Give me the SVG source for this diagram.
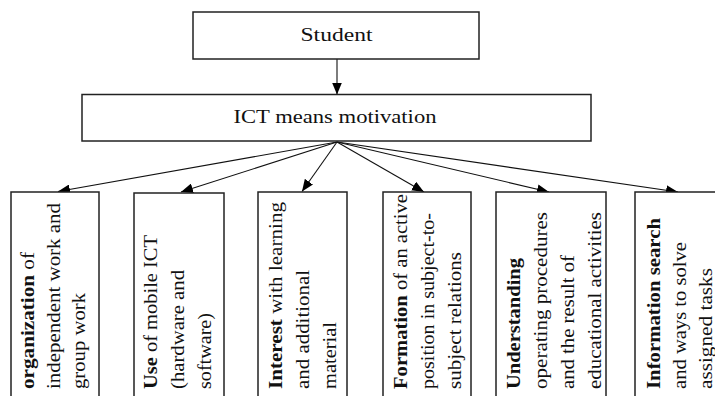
<svg xmlns="http://www.w3.org/2000/svg" width="715" height="396" viewBox="0 0 715 396">
<defs>
<style>
.box{fill:#fff;stroke:#222;stroke-width:1.5}
.t{font-family:"Liberation Serif","Times New Roman",serif;fill:#111}
.c{font-size:18px}
.v{font-size:18px}
.b{font-weight:bold}
.ln{stroke:#111;stroke-width:1.1;fill:none}
</style>
<marker id="ah" markerUnits="userSpaceOnUse" markerWidth="13" markerHeight="10" refX="12" refY="5" orient="auto" viewBox="0 0 13 10">
<path d="M0,0 L12,5 L0,10 z" fill="#000"/>
</marker>
</defs>
<rect width="715" height="396" fill="#fff"/>
<g id="connectors">
<line class="ln" x1="337" y1="59" x2="337" y2="94.5" marker-end="url(#ah)"/>
<line class="ln" x1="337" y1="142" x2="58" y2="191.5" marker-end="url(#ah)"/>
<line class="ln" x1="337" y1="142" x2="181" y2="192" marker-end="url(#ah)"/>
<line class="ln" x1="337" y1="142" x2="302" y2="191.5" marker-end="url(#ah)"/>
<line class="ln" x1="337" y1="142" x2="424" y2="192" marker-end="url(#ah)"/>
<line class="ln" x1="337" y1="142" x2="549" y2="192" marker-end="url(#ah)"/>
<line class="ln" x1="337" y1="142" x2="678" y2="192" marker-end="url(#ah)"/>
</g>
<g id="student">
<rect class="box" x="193" y="12" width="286" height="47"/>
<text class="t c" x="336.5" y="41" text-anchor="middle" textLength="72" lengthAdjust="spacingAndGlyphs">Student</text>
</g>
<g id="ict">
<rect class="box" x="82" y="94.5" width="509" height="46.5"/>
<text class="t c" x="335" y="123" text-anchor="middle" textLength="203" lengthAdjust="spacingAndGlyphs">ICT  means motivation</text>
</g>
<g id="n1">
<rect class="box" x="11" y="192" width="88" height="210"/>
<text class="t v" transform="translate(34,389) rotate(-90)" textLength="137" lengthAdjust="spacingAndGlyphs"><tspan class="b">organization</tspan> of</text>
<text class="t v" transform="translate(59.5,389) rotate(-90)" textLength="186" lengthAdjust="spacingAndGlyphs">independent work and</text>
<text class="t v" transform="translate(85,389) rotate(-90)" textLength="96" lengthAdjust="spacingAndGlyphs">group work</text>
</g>
<g id="n2">
<rect class="box" x="134" y="193" width="90" height="210"/>
<text class="t v" transform="translate(157,389) rotate(-90)" textLength="154" lengthAdjust="spacingAndGlyphs"><tspan class="b">Use</tspan> of mobile ICT</text>
<text class="t v" transform="translate(184,389) rotate(-90)" textLength="119" lengthAdjust="spacingAndGlyphs">(hardware and</text>
<text class="t v" transform="translate(211,389) rotate(-90)" textLength="76" lengthAdjust="spacingAndGlyphs">software)</text>
</g>
<g id="n3">
<rect class="box" x="258" y="192" width="89" height="210"/>
<text class="t v" transform="translate(282,389) rotate(-90)" textLength="187" lengthAdjust="spacingAndGlyphs"><tspan class="b">Interest</tspan> with learning</text>
<text class="t v" transform="translate(309,389) rotate(-90)" textLength="119" lengthAdjust="spacingAndGlyphs">and additional</text>
<text class="t v" transform="translate(336,389) rotate(-90)" textLength="67" lengthAdjust="spacingAndGlyphs">material</text>
</g>
<g id="n4">
<rect class="box" x="383" y="192" width="88" height="210"/>
<text class="t v" transform="translate(407,389) rotate(-90)" textLength="195" lengthAdjust="spacingAndGlyphs"><tspan class="b">Formation</tspan> of an active</text>
<text class="t v" transform="translate(434,389) rotate(-90)" textLength="176" lengthAdjust="spacingAndGlyphs">position in subject-to-</text>
<text class="t v" transform="translate(461,389) rotate(-90)" textLength="137" lengthAdjust="spacingAndGlyphs">subject relations</text>
</g>
<g id="n5">
<rect class="box" x="496" y="192" width="110" height="210"/>
<text class="t v b" transform="translate(520,389) rotate(-90)" textLength="131" lengthAdjust="spacingAndGlyphs">Understanding</text>
<text class="t v" transform="translate(547,389) rotate(-90)" textLength="177" lengthAdjust="spacingAndGlyphs">operating procedures</text>
<text class="t v" transform="translate(574,389) rotate(-90)" textLength="134" lengthAdjust="spacingAndGlyphs">and the result of</text>
<text class="t v" transform="translate(601,389) rotate(-90)" textLength="177" lengthAdjust="spacingAndGlyphs">educational activities</text>
</g>
<g id="n6">
<rect class="box" x="635" y="192" width="110" height="210"/>
<text class="t v b" transform="translate(660,389) rotate(-90)" textLength="171" lengthAdjust="spacingAndGlyphs">Information search</text>
<text class="t v" transform="translate(686,389) rotate(-90)" textLength="147" lengthAdjust="spacingAndGlyphs">and ways to solve</text>
<text class="t v" transform="translate(712,389) rotate(-90)" textLength="121" lengthAdjust="spacingAndGlyphs">assigned tasks</text>
</g>
</svg>
